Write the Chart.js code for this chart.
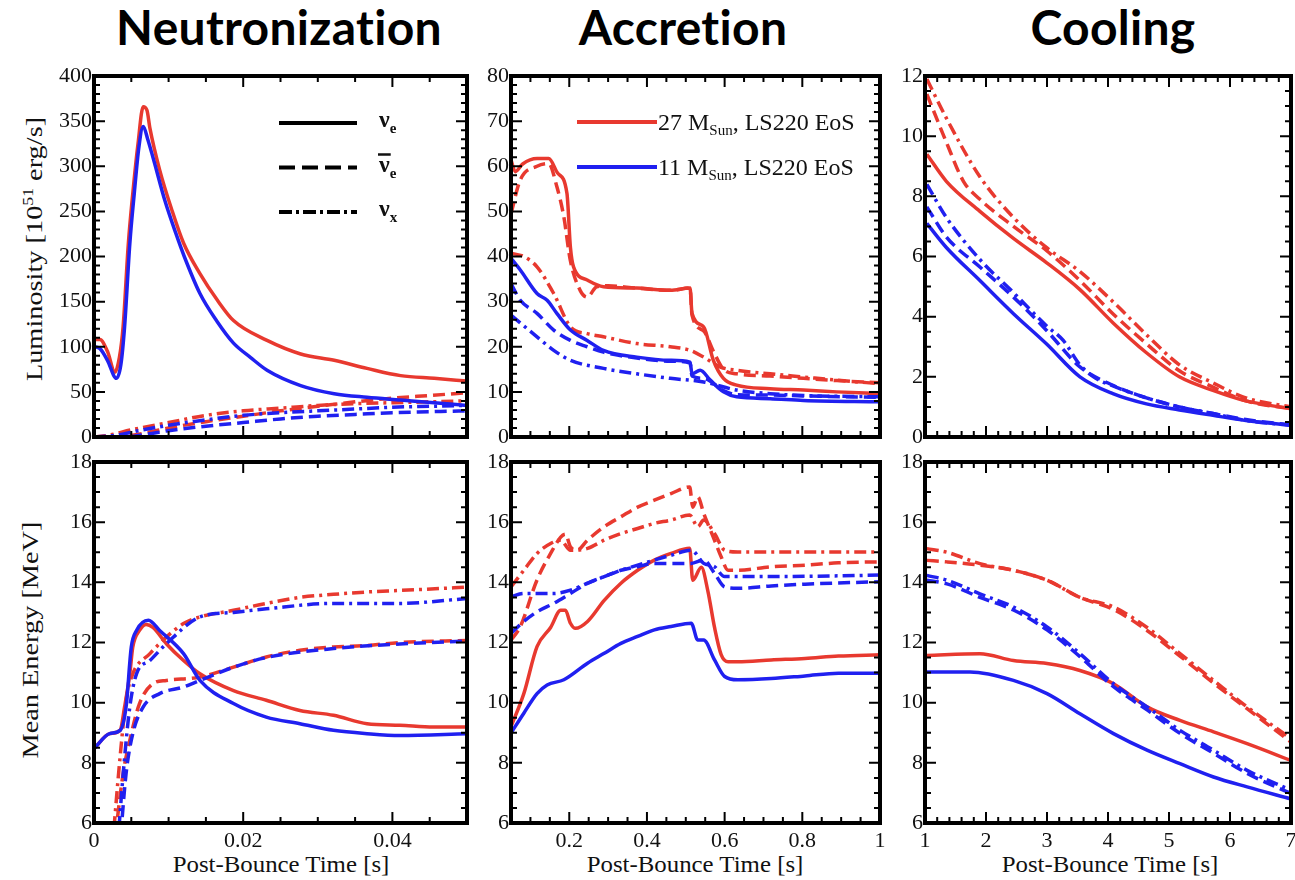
<!DOCTYPE html>
<html>
<head>
<meta charset="utf-8">
<script src="https://cdn.jsdelivr.net/npm/chart.js@4.4.1/dist/chart.umd.min.js"></script>
<style>
  html, body { margin: 0; padding: 0; background: #fff; }
  body { width: 1295px; height: 880px; position: relative; overflow: hidden; }
  canvas { position: absolute; }
  .head { position: absolute; top: 3px; font-family: Lato, sans-serif; font-weight: bold;
          font-size: 48px; line-height: 48px; letter-spacing: 0.3px; color: #000; transform: translateX(-50%); white-space: nowrap; }
  .ytitle { position: absolute; font-family: "Liberation Serif", serif; font-size: 24px; line-height: 26px;
            color: #111; white-space: nowrap; transform: translate(-50%, -50%) rotate(-90deg) scale(1.18, 1); }
  .ytitle sup { font-size: 15px; }
  .xtitle { position: absolute; top: 865px; font-family: "Liberation Serif", serif; font-size: 23px; line-height: 26px;
            color: #111; white-space: nowrap; transform: translate(-50%, -50%) scale(1.08, 1); }
</style>
</head>
<body>
<div class="head" style="left:279px">Neutronization</div>
<div class="head" style="left:683px">Accretion</div>
<div class="head" style="left:1113px">Cooling</div>
<div class="ytitle" style="left:31px;top:249px">Luminosity [10<sup>51</sup> erg/s]</div>
<div class="ytitle" style="left:30px;top:640px">Mean Energy [MeV]</div>
<div class="xtitle" style="left:281px">Post-Bounce Time [s]</div>
<div class="xtitle" style="left:695px">Post-Bounce Time [s]</div>
<div class="xtitle" style="left:1110px">Post-Bounce Time [s]</div>
<canvas id="c0"></canvas><canvas id="c1"></canvas><canvas id="c2"></canvas>
<canvas id="c3"></canvas><canvas id="c4"></canvas><canvas id="c5"></canvas>
<script>
// ---- tick labels ----
var neuXTicks = [0, 0.02, 0.04];
var accXTicks = [0.2, 0.4, 0.6, 0.8, 1];
var coolXTicks = [1, 2, 3, 4, 5, 6, 7];
var neuLumYTicks = [0, 50, 100, 150, 200, 250, 300, 350, 400];
var accLumYTicks = [0, 10, 20, 30, 40, 50, 60, 70, 80];
var coolLumYTicks = [0, 2, 4, 6, 8, 10, 12];
var energyYTicks = [6, 8, 10, 12, 14, 16, 18];

// ---- luminosity, neutronization (t [s], L [1e51 erg/s]) ; 27 = 27 Msun (red), 11 = 11 Msun (blue)
var neuLumE27 = [[0,108],[0.0008,108],[0.0018,95],[0.0028,72],[0.0034,88],[0.0039,122],[0.0046,214],[0.0052,270],[0.0059,325],[0.0066,366],[0.0071,362],[0.0075,342],[0.0088,296],[0.0105,250],[0.012,215],[0.0142,181],[0.0165,152],[0.0187,129],[0.0232,107],[0.0277,92],[0.0322,85],[0.0366,76],[0.0411,68],[0.0456,65],[0.05,62]];
var neuLumA27 = [[0,0],[0.003,0],[0.006,3],[0.01,10],[0.015,17],[0.02,23],[0.025,29],[0.03,34],[0.035,39],[0.04,43],[0.045,46],[0.05,49]];
var neuLumX27 = [[0,0],[0.002,2],[0.005,8],[0.01,16],[0.015,24],[0.02,29],[0.025,32],[0.03,35],[0.035,37],[0.04,38],[0.045,39],[0.05,40]];
var neuLumE11 = [[0,100],[0.0008,98],[0.0018,85],[0.003,65],[0.0036,80],[0.0041,122],[0.0048,214],[0.0054,270],[0.006,320],[0.0066,344],[0.0072,330],[0.0079,310],[0.0095,262],[0.011,225],[0.0121,200],[0.0142,159],[0.0165,128],[0.0187,104],[0.021,88],[0.0232,74],[0.0277,57],[0.0322,48],[0.0366,44],[0.0411,41],[0.0456,38],[0.05,35]];
var neuLumA11 = [[0,0],[0.004,0],[0.007,3],[0.01,7],[0.015,12],[0.02,16],[0.025,20],[0.03,23],[0.035,25],[0.04,27],[0.045,28],[0.05,29]];
var neuLumX11 = [[0,0],[0.003,2],[0.006,7],[0.01,13],[0.015,19],[0.02,24],[0.025,27],[0.03,29],[0.035,31],[0.04,33],[0.045,34],[0.05,35]];

// ---- luminosity, accretion
var accLumE27 = [[0.05,61.4],[0.061,58.8],[0.08,60.5],[0.117,61.7],[0.147,61.7],[0.17,58.5],[0.194,54],[0.203,42],[0.211,37.7],[0.246,34.8],[0.288,33.3],[0.374,33],[0.46,32.5],[0.511,33],[0.516,27.4],[0.546,24.4],[0.571,17],[0.597,13],[0.631,11.5],[0.717,10.7],[0.803,10.4],[0.889,10],[1,9.6]];
var accLumA27 = [[0.05,49.5],[0.074,57],[0.117,60],[0.147,60.6],[0.168,55.5],[0.186,48.8],[0.203,39],[0.228,32.5],[0.246,31],[0.271,33.3],[0.3,33.5],[0.374,33],[0.46,32.5],[0.511,33],[0.516,27],[0.546,23.5],[0.571,19],[0.597,15],[0.631,14],[0.717,13.5],[0.803,13],[0.889,12.5],[1,12]];
var accLumX27 = [[0.05,40.7],[0.083,40],[0.117,37.7],[0.16,31.8],[0.203,24.4],[0.246,22.9],[0.288,22.2],[0.374,20.7],[0.46,20],[0.511,19.2],[0.546,17.7],[0.589,15.5],[0.631,14.8],[0.717,14],[0.803,13.3],[0.889,12.6],[1,11.8]];
var accLumE11 = [[0.05,39.6],[0.074,37],[0.117,31.8],[0.143,30.3],[0.168,27.4],[0.203,23.7],[0.246,21.4],[0.288,19.2],[0.374,17.7],[0.46,17],[0.511,16.6],[0.516,14],[0.537,14.8],[0.563,12.6],[0.597,10],[0.631,8.9],[0.717,8.5],[0.803,8.1],[1,7.8]];
var accLumA11 = [[0.05,34],[0.074,30.3],[0.117,27.4],[0.16,23.7],[0.203,21.4],[0.246,20],[0.288,18.8],[0.374,17.5],[0.46,16.8],[0.511,16.4],[0.516,13.5],[0.546,13],[0.597,10.3],[0.631,9.4],[0.717,9.3],[0.803,9.1],[1,8.8]];
var accLumX11 = [[0.05,27],[0.117,22.2],[0.16,19.2],[0.203,17],[0.288,15.2],[0.374,14],[0.46,13],[0.546,12.2],[0.631,10.4],[0.717,9.6],[0.803,9.2],[1,8.9]];

// ---- luminosity, cooling
var coolLumE27 = [[1.03,9.4],[1.35,8.5],[1.9,7.5],[2.45,6.6],[2.99,5.8],[3.54,4.9],[4.08,3.8],[4.63,2.8],[5.17,2.0],[5.72,1.55],[6.26,1.2],[7,0.94]];
var coolLumA27 = [[1.03,11.4],[1.35,9.8],[1.63,8.5],[1.9,7.9],[2.45,7.0],[2.99,6.2],[3.54,5.2],[4.08,4.1],[4.63,3.1],[5.17,2.2],[5.72,1.66],[6.26,1.2],[7,0.94]];
var coolLumX27 = [[1.03,11.9],[1.35,10.6],[1.9,8.65],[2.45,7.3],[2.99,6.3],[3.54,5.5],[4.08,4.5],[4.63,3.4],[5.17,2.4],[5.72,1.8],[6.26,1.3],[7,1.0]];
var coolLumE11 = [[1.03,7.1],[1.35,6.3],[1.9,5.2],[2.45,4.1],[2.99,3.1],[3.54,2.0],[4.08,1.44],[4.63,1.1],[5.17,0.9],[5.72,0.72],[6.26,0.55],[7,0.39]];
var coolLumA11 = [[1.03,7.65],[1.35,6.65],[1.9,5.65],[2.45,4.65],[2.99,3.55],[3.54,2.33],[4.08,1.72],[4.63,1.3],[5.17,1.0],[5.72,0.78],[6.26,0.58],[7,0.4]];
var coolLumX11 = [[1.03,8.4],[1.35,7.3],[1.9,5.9],[2.45,4.8],[2.99,3.7],[3.27,3.2],[3.54,2.4],[3.8,1.95],[4.08,1.7],[4.63,1.3],[5.17,1.0],[5.72,0.78],[6.26,0.55],[7,0.39]];

// ---- mean energy, neutronization (MeV)
var neuEnE27 = [[0,8.47],[0.0021,8.97],[0.0035,9.08],[0.0041,9.86],[0.0048,10.96],[0.0052,11.85],[0.0061,12.4],[0.007,12.6],[0.0079,12.5],[0.0097,11.96],[0.012,11.4],[0.0142,10.96],[0.0187,10.4],[0.0231,10.08],[0.0276,9.74],[0.0321,9.58],[0.0366,9.3],[0.041,9.25],[0.0455,9.19],[0.05,9.19]];
var neuEnA27 = [[0.0026,5],[0.0039,7.64],[0.0048,8.75],[0.0061,9.97],[0.0079,10.63],[0.0097,10.74],[0.0142,10.85],[0.0187,11.18],[0.0231,11.52],[0.0276,11.74],[0.0321,11.85],[0.0366,11.9],[0.041,12.0],[0.05,12.07]];
var neuEnX27 = [[0.0024,5],[0.0035,8.2],[0.0043,10.08],[0.0052,10.96],[0.0075,11.63],[0.0097,12.18],[0.012,12.63],[0.0142,12.85],[0.0187,13.07],[0.0231,13.3],[0.0276,13.5],[0.0321,13.6],[0.0366,13.68],[0.041,13.73],[0.05,13.84]];
var neuEnE11 = [[0,8.47],[0.0021,8.97],[0.0035,9.08],[0.0043,9.86],[0.005,11.85],[0.0057,12.4],[0.0073,12.74],[0.0088,12.4],[0.012,11.63],[0.0142,10.74],[0.0187,9.97],[0.0231,9.52],[0.0276,9.3],[0.0321,9.08],[0.0366,8.97],[0.041,8.91],[0.05,8.97]];
var neuEnA11 = [[0.0034,5],[0.0043,7.64],[0.0052,8.97],[0.0066,9.86],[0.0088,10.3],[0.012,10.52],[0.0142,10.74],[0.0187,11.18],[0.0231,11.5],[0.0321,11.8],[0.041,11.95],[0.05,12.05]];
var neuEnX11 = [[0.0031,5],[0.0039,7.6],[0.0048,9.86],[0.0057,10.96],[0.0075,11.4],[0.0097,11.96],[0.0142,12.85],[0.0187,13.0],[0.0231,13.12],[0.0321,13.3],[0.041,13.3],[0.05,13.46]];

// ---- mean energy, accretion
var accEnE27 = [[0.05,9.2],[0.083,10.3],[0.117,11.86],[0.152,12.5],[0.178,13.07],[0.19,13.07],[0.203,12.64],[0.216,12.47],[0.247,12.7],[0.29,13.4],[0.333,13.97],[0.376,14.4],[0.419,14.74],[0.462,14.96],[0.51,15.13],[0.518,14.07],[0.54,14.5],[0.557,13.7],[0.574,12.5],[0.591,11.6],[0.609,11.36],[0.634,11.36],[0.72,11.42],[0.807,11.47],[0.893,11.55],[1,11.59]];
var accEnA27 = [[0.05,12.08],[0.074,12.53],[0.117,14.08],[0.152,14.96],[0.178,15.5],[0.19,15.6],[0.203,15.18],[0.22,15.07],[0.247,15.4],[0.29,15.85],[0.333,16.18],[0.376,16.5],[0.419,16.73],[0.462,16.95],[0.51,17.17],[0.518,16.5],[0.531,16.84],[0.546,16.3],[0.574,15.4],[0.591,14.85],[0.609,14.4],[0.634,14.4],[0.72,14.52],[0.807,14.57],[0.893,14.65],[1,14.68]];
var accEnX27 = [[0.05,13.85],[0.083,14.4],[0.117,14.96],[0.152,15.29],[0.178,15.4],[0.203,15.07],[0.247,15.13],[0.29,15.4],[0.333,15.62],[0.376,15.79],[0.419,15.96],[0.462,16.07],[0.51,16.24],[0.531,15.85],[0.546,16.07],[0.574,15.62],[0.6,15.07],[0.634,15.01],[1,15.01]];
var accEnE11 = [[0.05,8.99],[0.083,9.65],[0.117,10.3],[0.143,10.59],[0.186,10.76],[0.247,11.31],[0.29,11.64],[0.333,11.97],[0.376,12.2],[0.419,12.42],[0.462,12.53],[0.514,12.64],[0.531,12.08],[0.546,12.08],[0.574,11.42],[0.6,10.87],[0.634,10.76],[0.72,10.8],[0.807,10.89],[0.893,10.98],[1,10.98]];
var accEnA11 = [[0.05,12.3],[0.083,12.7],[0.117,13.02],[0.16,13.3],[0.203,13.63],[0.247,13.97],[0.29,14.19],[0.333,14.4],[0.376,14.52],[0.419,14.63],[0.514,14.63],[0.546,14.74],[0.574,14.3],[0.6,13.85],[0.634,13.8],[0.72,13.88],[0.807,13.94],[1,14.02]];
var accEnX11 = [[0.05,13.52],[0.083,13.63],[0.117,13.63],[0.16,13.63],[0.203,13.74],[0.247,13.97],[0.29,14.19],[0.333,14.4],[0.376,14.57],[0.419,14.74],[0.462,14.9],[0.514,15.07],[0.546,14.63],[0.574,14.52],[0.6,14.19],[0.634,14.19],[0.807,14.2],[1,14.24]];

// ---- mean energy, cooling
var coolEnE27 = [[1.03,11.57],[1.9,11.63],[2.45,11.4],[3.0,11.3],[3.54,11.07],[4.09,10.63],[4.64,9.86],[5.18,9.41],[5.73,9.03],[6.28,8.64],[7,8.08]];
var coolEnA27 = [[1.03,14.73],[1.36,14.68],[1.9,14.57],[2.45,14.4],[3.0,14.07],[3.54,13.5],[4.09,13.1],[4.64,12.4],[5.18,11.55],[5.73,10.65],[6.28,9.8],[7,8.69]];
var coolEnX27 = [[1.03,15.12],[1.36,15.0],[1.9,14.62],[2.45,14.4],[3.0,14.07],[3.54,13.5],[4.09,13.18],[4.64,12.5],[5.18,11.63],[5.73,10.74],[6.28,9.86],[7,8.8]];
var coolEnE11 = [[1.03,11.02],[1.74,11.02],[2.45,10.74],[3.0,10.3],[3.54,9.63],[4.09,8.97],[4.64,8.42],[5.18,7.97],[5.73,7.53],[6.28,7.2],[7,6.8]];
var coolEnA11 = [[1.03,14.07],[1.36,13.95],[1.9,13.5],[2.45,13.08],[3.0,12.42],[3.54,11.53],[4.09,10.53],[4.64,9.76],[5.18,8.98],[5.73,8.32],[6.28,7.65],[7,6.98]];
var coolEnX11 = [[1.03,14.23],[1.36,14.07],[1.9,13.62],[2.45,13.18],[3.0,12.52],[3.54,11.63],[4.09,10.63],[4.64,9.86],[5.18,9.08],[5.73,8.42],[6.28,7.75],[7,7.09]];

// ---- legend labels
var flavourKeys = [['ν', 'e', false], ['ν', 'e', true], ['ν', 'x', false]];
var modelKeys = [['27 M', 'Sun', ', LS220 EoS'], ['11 M', 'Sun', ', LS220 EoS']];

// ---- styles
var RED = '#e8392f', BLUE = '#2020f0';
var SOLID = [], DASH = [12, 6], DASHDOT = [12, 5, 3, 5];
var tickFont = { family: '"Liberation Serif", serif', size: 22 };

function trio(e11, a11, x11, e27, a27, x27) {
  return [
    { pts: e11, color: BLUE, dash: SOLID }, { pts: a11, color: BLUE, dash: DASH }, { pts: x11, color: BLUE, dash: DASHDOT },
    { pts: e27, color: RED, dash: SOLID }, { pts: a27, color: RED, dash: DASH }, { pts: x27, color: RED, dash: DASHDOT }
  ];
}

var panelInfo = {};

function spanMarks(min, max, step) {
  var out = [];
  var k = Math.ceil(min / step - 1e-6);
  for (; k * step <= max + 1e-9; k++) out.push(k * step);
  return out;
}
function isOn(v, step) { return Math.abs(v / step - Math.round(v / step)) < 1e-6; }

// inward ticks on all four sides plus the heavy frame
var frameTicks = {
  id: 'frameTicks',
  afterDatasetsDraw: function(chart) {
    var p = panelInfo[chart.canvas.id];
    var ctx = chart.ctx, a = chart.chartArea, sx = chart.scales.x, sy = chart.scales.y;
    ctx.save();
    ctx.strokeStyle = '#000';
    ctx.lineWidth = 2;
    ctx.beginPath();
    spanMarks(sx.min, sx.max, p.x.minor).forEach(function(v) {
      var px = sx.getPixelForValue(v), len = isOn(v, p.x.major) ? 11 : 6;
      ctx.moveTo(px, a.bottom); ctx.lineTo(px, a.bottom - len);
      ctx.moveTo(px, a.top); ctx.lineTo(px, a.top + len);
    });
    spanMarks(sy.min, sy.max, p.y.minor).forEach(function(v) {
      var py = sy.getPixelForValue(v), len = isOn(v, p.y.major) ? 11 : 6;
      ctx.moveTo(a.left, py); ctx.lineTo(a.left + len, py);
      ctx.moveTo(a.right, py); ctx.lineTo(a.right - len, py);
    });
    ctx.stroke();
    ctx.lineWidth = 4;
    ctx.strokeRect(a.left, a.top, a.right - a.left, a.bottom - a.top);
    ctx.restore();
  }
};

// hand-made key (line sample + label with subscript)
var lineKey = {
  id: 'lineKey',
  afterDraw: function(chart) {
    var p = panelInfo[chart.canvas.id];
    if (!p.key) return;
    var ctx = chart.ctx, a = chart.chartArea, k = p.key;
    k.items.forEach(function(it) {
      var x0 = a.left + it.dx, y0 = a.top + it.dy;
      ctx.save();
      ctx.strokeStyle = it.color;
      ctx.lineWidth = 4;
      ctx.setLineDash(it.dash);
      ctx.beginPath(); ctx.moveTo(x0, y0); ctx.lineTo(x0 + k.len, y0); ctx.stroke();
      ctx.setLineDash([]);
      var tx = x0 + k.len + k.gap, base = y0 + k.shift;
      ctx.fillStyle = '#111';
      ctx.strokeStyle = '#111';
      it.parts.forEach(function(part) {
        ctx.font = part.sub ? k.subFont : k.font;
        ctx.fillText(part.t, tx, base + (part.sub ? k.subDrop : 0));
        var w = ctx.measureText(part.t).width;
        if (part.bar) {
          ctx.lineWidth = 2.5;
          ctx.beginPath(); ctx.moveTo(tx - 1, base - k.barRise); ctx.lineTo(tx + w + 1, base - k.barRise); ctx.stroke();
        }
        tx += w;
      });
      ctx.restore();
    });
  }
};

var flavourKey = {
  len: 78, gap: 22, shift: 4, subDrop: 6, barRise: 17,
  font: 'bold 24px "Liberation Serif", serif', subFont: 'bold 15px "Liberation Serif", serif',
  items: flavourKeys.map(function(f, i) {
    return { dx: 185, dy: 47 + i * 44.5, color: '#000', dash: [SOLID, [16, 7], [13, 4, 3, 4]][i],
             parts: [{ t: f[0], bar: f[2] }, { t: f[1], sub: true }] };
  })
};
var modelKey = {
  len: 80, gap: 1, shift: 8, subDrop: 5, barRise: 0,
  font: '24px "Liberation Serif", serif', subFont: '15px "Liberation Serif", serif',
  items: modelKeys.map(function(m, i) {
    return { dx: 66, dy: 46 + i * 45, color: [RED, BLUE][i], dash: SOLID,
             parts: [{ t: m[0] }, { t: m[1], sub: true }, { t: m[2] }] };
  })
};

var panels = [
  { id: 'c0', left: 0, top: 60, w: 470, h: 387, yW: 94, xH: 10, padTop: 16, padRight: 3, key: flavourKey,
    x: { min: 0, max: 0.05, ticks: neuXTicks, labels: false, major: 0.02, minor: 0.005 },
    y: { min: 0, max: 400, ticks: neuLumYTicks, major: 50, minor: 10 },
    series: trio(neuLumE11, neuLumA11, neuLumX11, neuLumE27, neuLumA27, neuLumX27) },
  { id: 'c1', left: 470, top: 60, w: 415, h: 387, yW: 41, xH: 10, padTop: 16, padRight: 5, key: modelKey,
    x: { min: 0.05, max: 1, ticks: accXTicks, labels: false, major: 0.2, minor: 0.05 },
    y: { min: 0, max: 80, ticks: accLumYTicks, major: 10, minor: 2 },
    series: trio(accLumE11, accLumA11, accLumX11, accLumE27, accLumA27, accLumX27) },
  { id: 'c2', left: 885, top: 60, w: 410, h: 387, yW: 40, xH: 10, padTop: 16, padRight: 4,
    x: { min: 1, max: 7, ticks: coolXTicks, labels: false, major: 1, minor: 0.2 },
    y: { min: 0, max: 12, ticks: coolLumYTicks, major: 2, minor: 0.5 },
    series: trio(coolLumE11, coolLumA11, coolLumX11, coolLumE27, coolLumA27, coolLumX27) },
  { id: 'c3', left: 0, top: 447, w: 470, h: 433, yW: 94, xH: 57, padTop: 15, padRight: 3,
    x: { min: 0, max: 0.05, ticks: neuXTicks, labels: true, major: 0.02, minor: 0.005 },
    y: { min: 6, max: 18, ticks: energyYTicks, major: 2, minor: 0.5 },
    series: trio(neuEnE11, neuEnA11, neuEnX11, neuEnE27, neuEnA27, neuEnX27) },
  { id: 'c4', left: 470, top: 447, w: 415, h: 433, yW: 41, xH: 57, padTop: 15, padRight: 5,
    x: { min: 0.05, max: 1, ticks: accXTicks, labels: true, major: 0.2, minor: 0.05 },
    y: { min: 6, max: 18, ticks: energyYTicks, major: 2, minor: 0.5 },
    series: trio(accEnE11, accEnA11, accEnX11, accEnE27, accEnA27, accEnX27) },
  { id: 'c5', left: 885, top: 447, w: 410, h: 433, yW: 40, xH: 57, padTop: 15, padRight: 4,
    x: { min: 1, max: 7, ticks: coolXTicks, labels: true, major: 1, minor: 0.2 },
    y: { min: 6, max: 18, ticks: energyYTicks, major: 2, minor: 0.5 },
    series: trio(coolEnE11, coolEnA11, coolEnX11, coolEnE27, coolEnA27, coolEnX27) }
];

function buildPanel(p) {
  var cv = document.getElementById(p.id);
  cv.width = p.w; cv.height = p.h;
  cv.style.left = p.left + 'px'; cv.style.top = p.top + 'px';
  panelInfo[p.id] = p;
  new Chart(cv, {
    type: 'line',
    data: {
      datasets: p.series.map(function(s) {
        return {
          data: s.pts.map(function(pt) { return { x: pt[0], y: pt[1] }; }),
          borderColor: s.color, borderWidth: 3.5, borderDash: s.dash,
          pointRadius: 0, cubicInterpolationMode: 'monotone', fill: false
        };
      })
    },
    options: {
      responsive: false, animation: false, events: [],
      layout: { padding: { top: p.padTop, right: p.padRight, left: 0, bottom: 0 } },
      plugins: { legend: { display: false }, tooltip: { enabled: false } },
      scales: {
        x: {
          type: 'linear', min: p.x.min, max: p.x.max,
          grid: { display: false, drawTicks: false }, border: { display: false },
          ticks: { display: p.x.labels, padding: 5, font: tickFont, color: '#111', maxRotation: 0, minRotation: 0, autoSkip: false,
                   callback: function(v) { return String(v); } },
          afterBuildTicks: function(s) { s.ticks = p.x.ticks.map(function(v) { return { value: v }; }); },
          afterFit: function(s) { s.height = p.xH; s.paddingLeft = 0; s.paddingRight = 0; }
        },
        y: {
          type: 'linear', min: p.y.min, max: p.y.max,
          grid: { display: false, drawTicks: false }, border: { display: false },
          ticks: { padding: 2, font: tickFont, color: '#111', autoSkip: false,
                   callback: function(v) { return String(v); } },
          afterBuildTicks: function(s) { s.ticks = p.y.ticks.map(function(v) { return { value: v }; }); },
          afterFit: function(s) { s.width = p.yW; s.paddingTop = 0; s.paddingBottom = 0; }
        }
      }
    },
    plugins: [frameTicks, lineKey]
  });
}

panels.forEach(buildPanel);
</script>
</body>
</html>
